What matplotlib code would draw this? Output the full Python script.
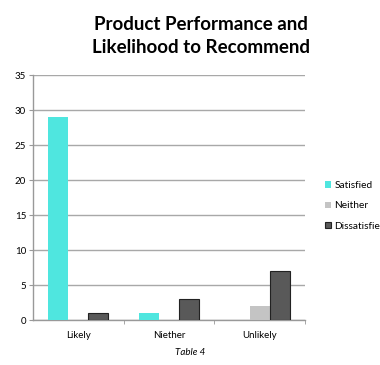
import matplotlib.pyplot as plt
import numpy as np

categories = ["Likely", "Niether", "Unlikely"]
series = ["Satisfied", "Neither", "Dissatisfied"]
satisfied = [29, 1, 0]
neither = [0, 0, 2]
dissatisfied = [1, 3, 7]

plt.rcParams["font.family"] = ["Lato", "DejaVu Sans"]

fig = plt.figure(figsize=(3.8, 3.65), dpi=100)
ax = fig.add_axes([0.087, 0.123, 0.716, 0.671])

x = np.arange(len(categories))
width = 0.22
colors = ["#4fe6df", "#c4c4c4", "#595959"]
edges = ["#4fe6df", "#c4c4c4", "#222222"]
for i, (vals, name) in enumerate(zip([satisfied, neither, dissatisfied], series)):
    ax.bar(x + (i - 1) * width, vals, width, color=colors[i], edgecolor=edges[i],
           linewidth=0.8 if i == 2 else 0, label=name, zorder=3)

ax.set_xlim(-0.5, 2.5)
ax.set_ylim(0, 35)
ax.set_yticks(range(0, 36, 5))
ax.set_xticks(x)
ax.set_xticklabels(categories, fontsize=7)
ax.set_xticks([0.5, 1.5, 2.5], minor=True)
ax.tick_params(axis="x", which="major", length=0, pad=8)
ax.tick_params(axis="x", which="minor", length=3, color="#999999")
ax.tick_params(axis="y", labelsize=7, length=3, color="#999999", pad=2)
ax.grid(axis="y", color="#a8a8a8", linewidth=1.0, zorder=0)
for side in ["top", "right"]:
    ax.spines[side].set_visible(False)
for side in ["left", "bottom"]:
    ax.spines[side].set_color("#999999")
    ax.spines[side].set_linewidth(1.0)

fig.text(0.528, 0.902, "Product Performance and\nLikelihood to Recommend",
         ha="center", va="center", fontsize=13.5, fontweight="bold", linespacing=1.4)
fig.text(0.5, 0.035, "Table 4", ha="center", va="center", fontsize=7, style="italic")

fig.legend(loc="center left", bbox_to_anchor=(0.845, 0.436), frameon=False,
           fontsize=7.3, handlelength=0.6, handleheight=0.6, handletextpad=0.3,
           labelspacing=1.1, borderaxespad=0)

fig.savefig("out.png", dpi=100, facecolor="white")
